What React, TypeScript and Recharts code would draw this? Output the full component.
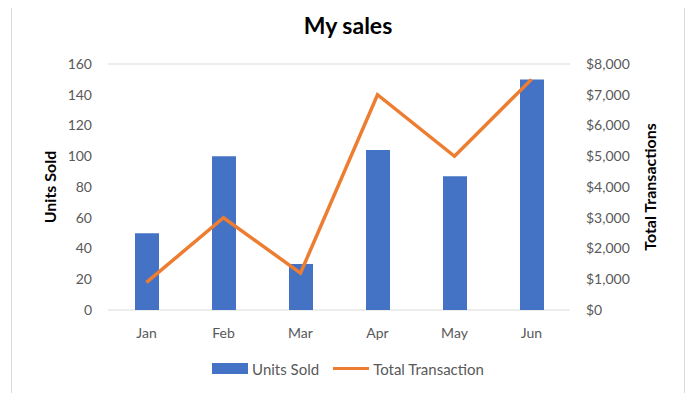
import React from "react";
import {
  ComposedChart,
  Bar,
  Line,
  XAxis,
  YAxis,
  CartesianGrid,
  Legend,
} from "recharts";

const months = ["Jan", "Feb", "Mar", "Apr", "May", "Jun"];
const unitsSold = [50, 100, 30, 104, 87, 150];
const totalTransaction = [900, 3000, 1200, 7000, 5000, 7500];
const unitTicks = [0, 20, 40, 60, 80, 100, 120, 140, 160];
const moneyTicks = [0, 1000, 2000, 3000, 4000, 5000, 6000, 7000, 8000];

const FONT = "Lato, 'Open Sans', sans-serif";

const data = months.map((m, i) => ({
  month: m,
  units: unitsSold[i],
  total: totalTransaction[i],
}));

const LegendContent = () => (
  <div
    style={{
      display: "flex",
      justifyContent: "center",
      alignItems: "center",
      fontFamily: FONT,
      fontSize: 15,
      color: "#595959",
      height: 17,
    }}
  >
    <span style={{ display: "inline-block", width: 36, height: 11, background: "#4472C4", marginRight: 4 }} />
    <span style={{ marginRight: 14 }}>Units Sold</span>
    <span style={{ display: "inline-block", width: 36, height: 3, background: "#ED7D31", marginRight: 4 }} />
    <span>Total Transaction</span>
  </div>
);

const App = () => {
  return (
    <div
      style={{
        position: "relative",
        top: -8,
        marginLeft: 3,
        width: 672,
        height: 410,
        borderLeft: "1px solid #d9d9d9",
        borderRight: "1px solid #d9d9d9",
        background: "#fff",
      }}
    >
      <div
        style={{
          position: "absolute",
          top: 11,
          left: 0,
          width: 672,
          textAlign: "center",
          fontFamily: FONT,
          fontWeight: 700,
          fontSize: 23,
          color: "#000",
        }}
      >
        My sales
      </div>
      <ComposedChart
        width={672}
        height={400}
        data={data}
        margin={{ top: 64, right: 0, bottom: 43, left: 0 }}
      >
        <CartesianGrid vertical={false} stroke="#d9d9d9" />
        <XAxis
          dataKey="month"
          axisLine={false}
          tickLine={false}
          tickSize={0}
          tickMargin={18}
          height={30}
          tick={{ fill: "#595959", fontSize: 14, fontFamily: FONT }}
        />
        <YAxis
          yAxisId="left"
          width={96}
          domain={[0, 160]}
          ticks={unitTicks}
          axisLine={false}
          tickLine={false}
          tickSize={0}
          tickMargin={16}
          tick={{ fill: "#595959", fontSize: 14, fontFamily: FONT }}
          label={{
            value: "Units Sold",
            angle: -90,
            position: "center",
            dx: -10,
            style: { fontFamily: FONT, fontWeight: 700, fontSize: 16, fill: "#000" },
          }}
        />
        <YAxis
          yAxisId="right"
          orientation="right"
          width={114}
          domain={[0, 8000]}
          ticks={moneyTicks}
          axisLine={false}
          tickLine={false}
          tickSize={0}
          tickMargin={16}
          tickFormatter={(v: number) => "$" + v.toLocaleString("en-US")}
          tick={{ fill: "#595959", fontSize: 14, fontFamily: FONT }}
          label={{
            value: "Total Transactions",
            angle: -90,
            position: "center",
            dx: 23,
            style: { fontFamily: FONT, fontWeight: 700, fontSize: 16, fill: "#000" },
          }}
        />
        <Bar
          yAxisId="left"
          dataKey="units"
          name="Units Sold"
          fill="#4472C4"
          barSize={24}
          isAnimationActive={false}
        />
        <Line
          yAxisId="right"
          dataKey="total"
          name="Total Transaction"
          type="linear"
          stroke="#ED7D31"
          strokeWidth={3.5}
          dot={false}
          activeDot={false}
          isAnimationActive={false}
        />
        <Legend content={<LegendContent />} wrapperStyle={{ top: 360 }} />
      </ComposedChart>
    </div>
  );
};

export default App;
